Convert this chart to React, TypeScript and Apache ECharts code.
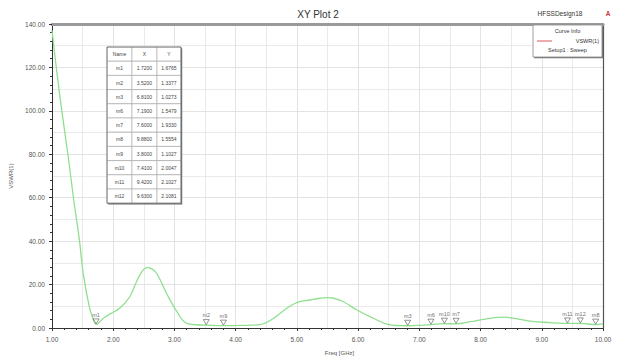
import React, { useEffect, useRef } from "react";
import * as echarts from "echarts";

const freqGHz = [1.0, 1.07, 1.16, 1.26, 1.35, 1.45, 1.51, 1.61, 1.68, 1.72, 1.78, 1.84, 1.95, 2.11, 2.27, 2.38, 2.47, 2.55, 2.63, 2.71, 2.87, 3.04, 3.2, 3.36, 3.52, 3.8, 4.1, 4.4, 4.62, 4.83, 5.0, 5.22, 5.38, 5.5, 5.6, 5.76, 5.98, 6.25, 6.47, 6.69, 6.81, 7.0, 7.19, 7.41, 7.6, 7.83, 8.05, 8.27, 8.4, 8.53, 8.81, 9.14, 9.42, 9.63, 9.88, 10.0];
const vswr = [137, 120, 100, 80, 60, 40, 25, 9.7, 3.5, 1.68, 2.8, 4.5, 6.5, 9.2, 14.4, 21.3, 26, 27.8, 27.2, 25.2, 16, 7.5, 2.1, 1.5, 1.34, 1.1, 1.2, 1.6, 4.5, 9, 11.7, 12.9, 13.7, 14, 13.7, 12.1, 8.3, 4.5, 1.8, 1.1, 1.03, 1.2, 1.55, 2.0, 1.93, 2.9, 4.0, 4.9, 5.0, 4.5, 3.2, 2.5, 2.1, 2.11, 1.56, 1.9];

const markerNames = ["m1", "m2", "m3", "m6", "m7", "m8", "m9", "m10", "m11", "m12"];
const markerX = [1.72, 3.52, 6.81, 7.19, 7.6, 9.88, 3.8, 7.41, 9.42, 9.63];
const markerY = [1.6765, 1.3377, 1.0273, 1.5479, 1.933, 1.5554, 1.1027, 2.0047, 2.1027, 2.1081];

const tableHeader = ["Name", "X", "Y"];

export default function App() {
  const ref = useRef<HTMLDivElement>(null);
  useEffect(() => {
    document.body.style.margin = "0";
    const chart = echarts.init(ref.current!, undefined, { renderer: "svg" });

    const tLeft = 107;
    const tTop = 47;
    const colW = [25, 25, 24];
    const rowH = 14.2;
    const rows = [tableHeader, ...markerNames.map((n, i) => [n, markerX[i].toFixed(4), markerY[i].toFixed(4)])];
    const cells: any[] = [];
    rows.forEach((r, ri) => {
      let cx = tLeft;
      r.forEach((t, ci) => {
        cells.push({
          type: "rect",
          z: 11,
          shape: { x: cx, y: tTop + ri * rowH, width: colW[ci], height: rowH },
          style: { fill: "#fff", stroke: "#aaa", lineWidth: 0.6 },
        });
        cells.push({
          type: "text",
          z: 12,
          style: {
            text: t,
            x: cx + colW[ci] / 2,
            y: tTop + ri * rowH + rowH / 2,
            align: "center",
            verticalAlign: "middle",
            fontSize: 5,
            fill: "#444",
            fontFamily: "Liberation Sans",
          },
        });
        cx += colW[ci];
      });
    });
    const tW = colW.reduce((a, b) => a + b, 0);
    const tH = rows.length * rowH;

    chart.setOption({
      animation: false,
      backgroundColor: "#fff",
      textStyle: { fontFamily: "Liberation Sans" },
      grid: { left: 52, right: 16, top: 24, bottom: 33 },
      xAxis: [
        {
          type: "value",
          min: 1,
          max: 10,
          interval: 1,
          name: "Freq [GHz]",
          nameLocation: "middle",
          nameGap: 22,
          nameTextStyle: { fontSize: 6, color: "#555", padding: [0, 0, 0, 24] },
          axisLine: { show: true, onZero: false, lineStyle: { color: "#333", width: 1 } },
          axisTick: { show: true, length: 3, lineStyle: { color: "#333" } },
          minorTick: { show: true, splitNumber: 5, length: 2, lineStyle: { color: "#333" } },
          axisLabel: { fontSize: 6.5, color: "#555", formatter: (v: number) => v.toFixed(2), margin: 8 },
          splitLine: { show: true, lineStyle: { color: "#d4d4d4", width: 0.8 } },
        },
        {
          type: "value",
          min: 1,
          max: 10,
          interval: 0.5,
          position: "top",
          axisLine: { show: true, onZero: false, lineStyle: { color: "#9a9a9a", width: 3 } },
          axisTick: { show: false },
          axisLabel: { show: false },
          splitLine: { show: true, lineStyle: { color: "#e4e4e4", width: 0.8 } },
        },
      ],
      yAxis: [
        {
          type: "value",
          min: 0,
          max: 140,
          interval: 20,
          name: "VSWR(1)",
          nameLocation: "middle",
          nameGap: 19,
          nameTextStyle: { fontSize: 6, color: "#555" },
          axisLine: { show: true, onZero: false, lineStyle: { color: "#333", width: 1 } },
          axisTick: { show: true, length: 3, lineStyle: { color: "#333" } },
          minorTick: { show: true, splitNumber: 5, length: 2, lineStyle: { color: "#333" } },
          axisLabel: { fontSize: 6.5, color: "#555", formatter: (v: number) => v.toFixed(2), margin: 7 },
          splitLine: { show: true, lineStyle: { color: "#d4d4d4", width: 0.8 } },
        },
        {
          type: "value",
          min: 0,
          max: 140,
          interval: 10,
          position: "right",
          axisLine: { show: true, onZero: false, lineStyle: { color: "#555", width: 1.2 } },
          axisTick: { show: false },
          axisLabel: { show: false },
          splitLine: { show: true, lineStyle: { color: "#e4e4e4", width: 0.8 } },
        },
      ],
      series: [
        {
          type: "line",
          xAxisIndex: 0,
          yAxisIndex: 0,
          data: freqGHz.map((f, i) => [f, vswr[i]]),
          smooth: 0.4,
          showSymbol: false,
          lineStyle: { color: "#8ee08e", width: 1.3 },
          z: 3,
        },
        {
          type: "scatter",
          xAxisIndex: 0,
          yAxisIndex: 0,
          data: markerNames.map((n, i) => ({ name: n, value: [markerX[i], markerY[i]] })),
          symbol: "triangle",
          symbolRotate: 180,
          symbolSize: [6, 5],
          symbolOffset: [0, -3],
          itemStyle: { color: "#fff", borderColor: "#444", borderWidth: 0.7 },
          label: {
            show: true,
            position: "top",
            distance: 1,
            formatter: (p: any) => p.name,
            fontSize: 5.5,
            color: "#444",
          },
          z: 4,
        },
      ],
      graphic: [
        {
          type: "text",
          style: { text: "XY Plot 2", x: 318, y: 14, align: "center", verticalAlign: "middle", fontSize: 10, fill: "#333", fontFamily: "Liberation Sans" },
        },
        {
          type: "text",
          style: { text: "HFSSDesign18", x: 560, y: 13, align: "center", verticalAlign: "middle", fontSize: 6.5, fill: "#333", fontFamily: "Liberation Sans" },
        },
        {
          type: "text",
          style: { text: "A", x: 608, y: 13, align: "center", verticalAlign: "middle", fontSize: 6.5, fontWeight: "bold", fill: "#c33", fontFamily: "Liberation Sans" },
        },
        {
          type: "rect",
          shape: { x: tLeft + 1.2, y: tTop + 1.2, width: tW, height: tH },
          style: { fill: "#666" },
          z: 10,
        },
        ...cells,
        {
          type: "rect",
          shape: { x: tLeft, y: tTop, width: tW, height: tH },
          style: { fill: "none", stroke: "#666", lineWidth: 0.8 },
          z: 13,
        },
        {
          type: "rect",
          shape: { x: 534.2, y: 26.2, width: 69, height: 32 },
          style: { fill: "#777" },
          z: 10,
        },
        {
          type: "rect",
          shape: { x: 533, y: 25, width: 69, height: 32 },
          style: { fill: "#fff", stroke: "#888", lineWidth: 0.8 },
          z: 11,
        },
        {
          type: "text",
          z: 12,
          style: { text: "Curve Info", x: 567.5, y: 31, align: "center", verticalAlign: "middle", fontSize: 5.5, fill: "#333", fontFamily: "Liberation Sans" },
        },
        {
          type: "line",
          z: 12,
          shape: { x1: 537, y1: 41, x2: 552, y2: 41 },
          style: { stroke: "#e58080", lineWidth: 1.3 },
        },
        {
          type: "text",
          z: 12,
          style: { text: "VSWR(1)", x: 599, y: 41, align: "right", verticalAlign: "middle", fontSize: 5.5, fill: "#333", fontFamily: "Liberation Sans" },
        },
        {
          type: "text",
          z: 12,
          style: { text: "Setup1 : Sweep", x: 567.5, y: 50, align: "center", verticalAlign: "middle", fontSize: 5.5, fill: "#333", fontFamily: "Liberation Sans" },
        },
      ],
    });
    return () => chart.dispose();
  }, []);
  return <div ref={ref} style={{ width: 619, height: 361 }} />;
}
